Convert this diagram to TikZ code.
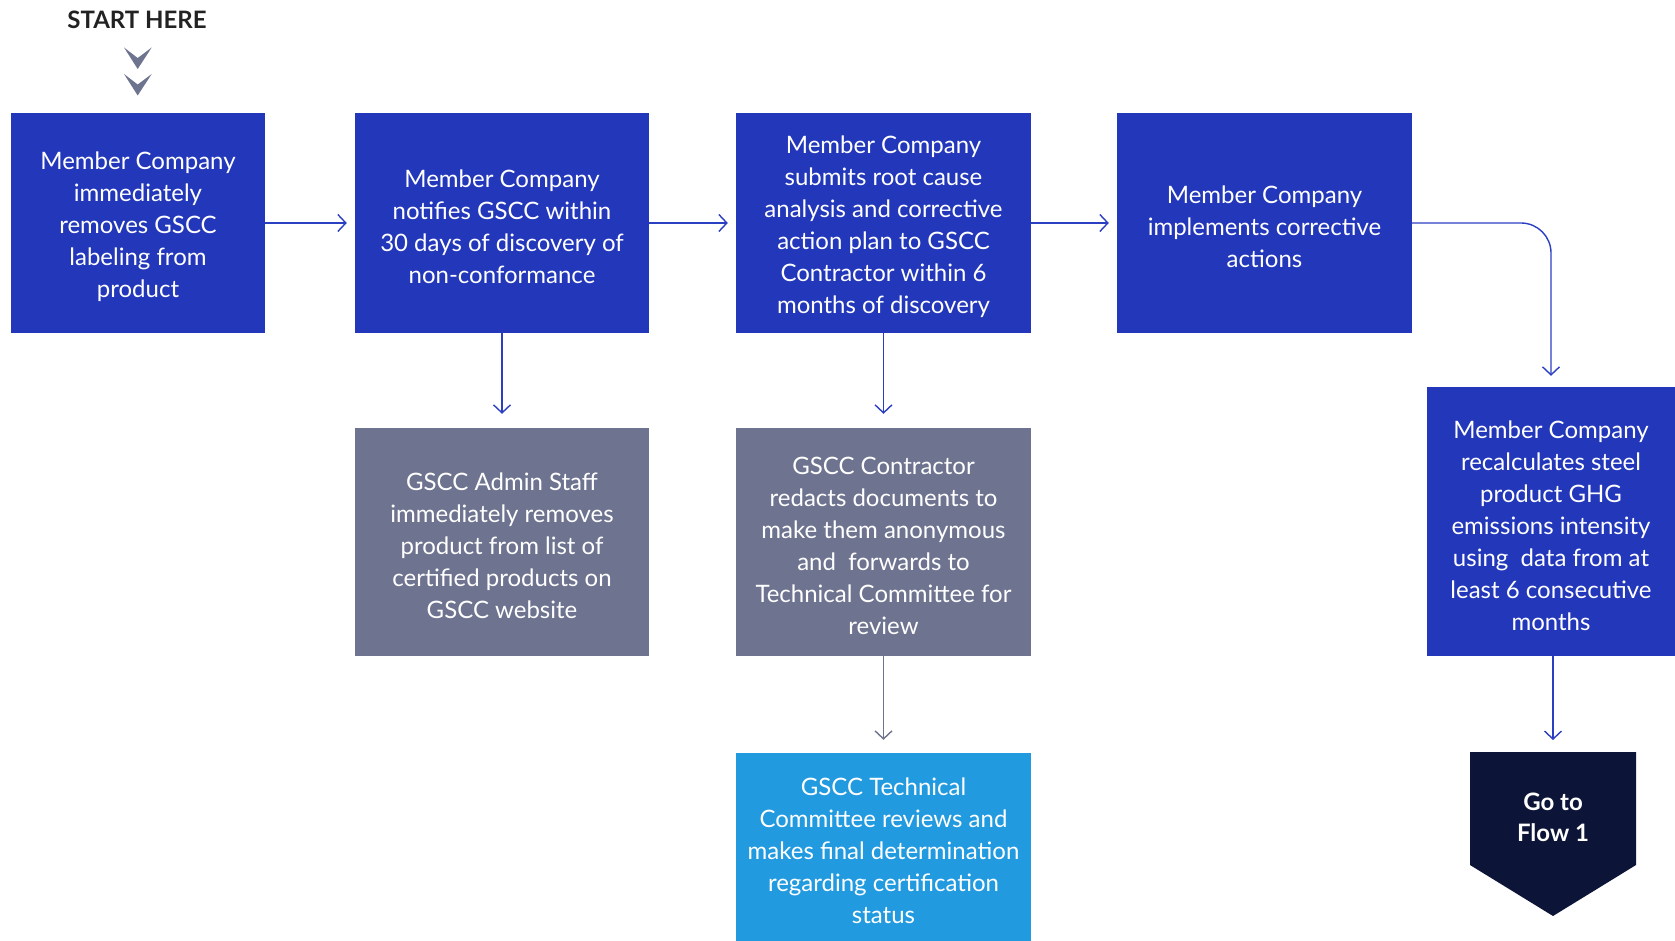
\documentclass[tikz,border=0pt]{standalone}
\usepackage{fontspec}
\setmainfont{Lato}
\usetikzlibrary{arrows.meta}

\definecolor{gsccblue}{HTML}{2237BA}
\definecolor{gsccgray}{HTML}{6E7490}
\definecolor{gsccsky}{HTML}{219AE0}
\definecolor{gsccnavy}{HTML}{0C1538}
\definecolor{arrowblue}{HTML}{2B3FC2}

% strut that pushes the box text a little down
\newcommand{\boxstrut}{\rule{0pt}{26pt}}

\tikzset{
  box/.style={fill=gsccblue, text=white, inner sep=0pt, align=center,
    font=\fontsize{24}{32}\selectfont},
  graybox/.style={box, fill=gsccgray},
  skybox/.style={box, fill=gsccsky},
  flow/.style={draw=arrowblue, line width=1.4pt, -{Straight Barb[length=8pt,width=17pt]}},
  grayflow/.style={flow, draw=gsccgray}
}

\begin{document}
\begin{tikzpicture}[x=1pt,y=-1pt]

\useasboundingbox (0,0) rectangle (1675,941);

% start marker
\node (start) at (137,19.5) {\fontsize{24}{26}\selectfont\bfseries\color[HTML]{222222}START HERE};
\fill[gsccgray] (124,47.5) -- (137.7,58) -- (151.7,47.5) -- (137.7,69) -- cycle;
\fill[gsccgray] (124,74) -- (137.7,84.5) -- (151.7,74) -- (137.7,95.5) -- cycle;

% top row
\node[box, minimum width=254pt, minimum height=220pt] (remove) at (138,223)
  {\boxstrut Member Company\\immediately\\removes GSCC\\labeling from\\product};
\node[box, minimum width=294pt, minimum height=220pt] (notify) at (502,223)
  {\boxstrut Member Company\\notifies GSCC within\\30 days of discovery of\\non-conformance};
\node[box, minimum width=295pt, minimum height=220pt] (submit) at (883.5,223)
  {\boxstrut Member Company\\submits root cause\\analysis and corrective\\action plan to GSCC\\Contractor within 6\\months of discovery};
\node[box, minimum width=295pt, minimum height=220pt] (implement) at (1264.5,223)
  {\boxstrut Member Company\\implements corrective\\actions};

% second row
\node[graybox, minimum width=294pt, minimum height=228pt] (admin) at (502,542)
  {\boxstrut GSCC Admin Staff\\immediately removes\\product from list of\\certified products on\\GSCC website};
\node[graybox, minimum width=295pt, minimum height=228pt] (redact) at (883.5,542)
  {\boxstrut GSCC Contractor\\redacts documents to\\make them anonymous\\and \ forwards to\\Technical Committee for\\review};
\node[box, minimum width=248pt, minimum height=269pt] (recalc) at (1551,521.5)
  {\boxstrut Member Company\\recalculates steel\\product GHG\\emissions intensity\\using \ data from at\\least 6 consecutive\\months};

% third row
\node[skybox, minimum width=295pt, minimum height=188pt] (review) at (883.5,847)
  {\boxstrut GSCC Technical\\Committee reviews and\\makes final determination\\regarding certification\\status};

% go to flow 1
\fill[gsccnavy] (1470,752) -- (1636,752) -- (1636,865) -- (1553,916) -- (1470,865) -- cycle;
\node[text=white, align=center, inner sep=0pt, font=\fontsize{24}{31}\selectfont\bfseries] (goflow) at (1553,817)
  {Go to\\Flow 1};
\coordinate (gotop) at (1553,752);

% connectors
\draw[flow, shorten >=8pt] (remove) -- (notify);
\draw[flow, shorten >=8pt] (notify) -- (submit);
\draw[flow, shorten >=8pt] (submit) -- (implement);
\draw[flow, shorten >=14pt] (notify) -- (admin);
\draw[flow, shorten >=14pt] (submit) -- (redact);
\draw[grayflow, shorten >=13pt] (redact) -- (review);
\draw[flow, shorten >=11pt, rounded corners=30pt] (implement.east) -| (recalc.north);
\draw[flow, shorten >=12pt] (recalc.south -| gotop) -- (gotop);

\end{tikzpicture}
\end{document}
